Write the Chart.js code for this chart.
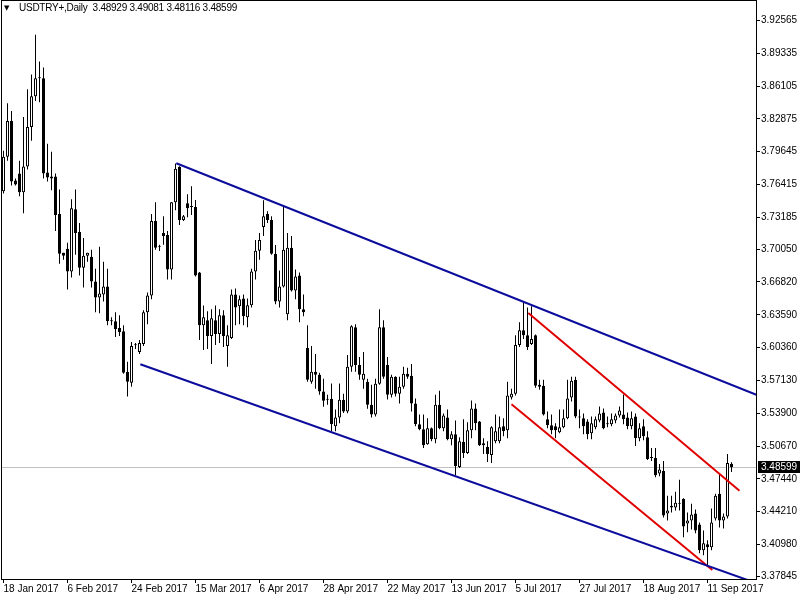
<!DOCTYPE html>
<html>
<head>
<meta charset="utf-8">
<script src="https://cdn.jsdelivr.net/npm/chart.js@4.4.0/dist/chart.umd.min.js"></script>
<style>
  html, body { margin: 0; padding: 0; background: #fff; }
  #wrap { position: relative; width: 800px; height: 600px; }
  #title { position: absolute; left: 19px; top: 2px; font: 10px "Liberation Sans", Arial, sans-serif; letter-spacing: -0.25px; line-height: 12px; color: #000; white-space: pre; }
  #tri { position: absolute; left: 4px; top: 2px; font: 7px "DejaVu Sans", sans-serif; line-height: 12px; color: #000; }
</style>
</head>
<body>
<div id="wrap">
  <canvas id="chart" width="800" height="600"></canvas>
  <div id="tri">▼</div>
  <div id="title">USDTRY+,Daily  3.48929 3.49081 3.48116 3.48599</div>
</div>
<script>
// daily candles, one per bar index (0 = 18 Jan 2017)
const opens = [3.7574, 3.7915, 3.8267, 3.7681, 3.7750, 3.7564, 3.7818, 3.8208, 3.8510, 3.8696,
  3.8686, 3.7759, 3.7720, 3.7720, 3.7350, 3.6969, 3.7008, 3.6784, 3.7398, 3.7174,
  3.6823, 3.6940, 3.6930, 3.6686, 3.6530, 3.6559, 3.6637, 3.6306, 3.6296, 3.6228,
  3.6198, 3.5798, 3.5691, 3.6064, 3.5993, 3.6072, 3.6384, 3.6550, 3.7281, 3.7038,
  3.7164, 3.7145, 3.6804, 3.7467, 3.7817, 3.7291, 3.7457, 3.7429, 3.7419, 3.6775,
  3.6257, 3.6306, 3.6150, 3.6306, 3.6169, 3.6354, 3.6052, 3.6130, 3.6559, 3.6442,
  3.6520, 3.6335, 3.6452, 3.6784, 3.6989, 3.7223, 3.7350, 3.7291, 3.6959, 3.6491,
  3.6637, 3.6364, 3.7018, 3.6599, 3.6745, 3.6413, 3.6032, 3.5701, 3.5798, 3.5769,
  3.5603, 3.5532, 3.5532, 3.5262, 3.5349, 3.5523, 3.5408, 3.5847, 3.6237, 3.5866,
  3.5720, 3.5701, 3.5474, 3.5377, 3.5681, 3.6237, 3.5866, 3.5573, 3.5750, 3.5583,
  3.5652, 3.5779, 3.5760, 3.5486, 3.5281, 3.5232, 3.5086, 3.5242, 3.5134, 3.5474,
  3.5242, 3.5349, 3.5135, 3.5183, 3.4861, 3.5106, 3.4998, 3.5222, 3.5437, 3.5310,
  3.5096, 3.5057, 3.4979, 3.5115, 3.5115, 3.5262, 3.5222, 3.5544, 3.5583, 3.6062,
  3.6208, 3.6159, 3.6072, 3.6159, 3.5671, 3.5662, 3.5330, 3.5271, 3.5262, 3.5203,
  3.5252, 3.5340, 3.5544, 3.5720, 3.5359, 3.5340, 3.5310, 3.5193, 3.5252, 3.5320,
  3.5398, 3.5291, 3.5281, 3.5320, 3.5369, 3.5379, 3.5349, 3.5262, 3.5359, 3.5144,
  3.5262, 3.5154, 3.4959, 3.4950, 3.4798, 3.4823, 3.4403, 3.4462, 3.4462, 3.4510,
  3.4549, 3.4305, 3.4335, 3.4403, 3.4296, 3.4042, 3.4101, 3.4072, 3.4354, 3.4598,
  3.4335, 3.4374, 3.48929];
const highs = [3.7974, 3.8442, 3.8364, 3.7701, 3.7876, 3.8306, 3.8579, 3.8725, 3.9115, 3.8852,
  3.8793, 3.8042, 3.7964, 3.7750, 3.7593, 3.6969, 3.7067, 3.7496, 3.7593, 3.7262,
  3.7115, 3.6969, 3.6998, 3.6813, 3.7028, 3.6881, 3.6813, 3.6335, 3.6384, 3.6354,
  3.6257, 3.5896, 3.6091, 3.6082, 3.6111, 3.6403, 3.6579, 3.7350, 3.7467, 3.7048,
  3.7330, 3.7184, 3.7470, 3.7847, 3.7820, 3.7340, 3.7545, 3.7625, 3.7488, 3.6780,
  3.6451, 3.6394, 3.6413, 3.6451, 3.6413, 3.6403, 3.6257, 3.6608, 3.6618, 3.6550,
  3.6559, 3.6520, 3.6813, 3.7096, 3.7164, 3.7486, 3.7379, 3.7330, 3.7047, 3.6795,
  3.7437, 3.7164, 3.7135, 3.6804, 3.6775, 3.6559, 3.6257, 3.6052, 3.5974, 3.5789,
  3.5730, 3.5573, 3.5683, 3.5427, 3.5683, 3.5583, 3.5963, 3.6257, 3.6267, 3.5944,
  3.5993, 3.5730, 3.5671, 3.5730, 3.6413, 3.6306, 3.5944, 3.5769, 3.5755, 3.5750,
  3.5847, 3.5838, 3.5876, 3.5535, 3.5379, 3.5379, 3.5340, 3.5250, 3.5573, 3.5612,
  3.5388, 3.5427, 3.5213, 3.5320, 3.5154, 3.5330, 3.5301, 3.5515, 3.5486, 3.5315,
  3.5144, 3.5115, 3.5262, 3.5379, 3.5359, 3.5340, 3.5701, 3.5632, 3.6159, 3.6286,
  3.6481, 3.6432, 3.6442, 3.6165, 3.5720, 3.5720, 3.5408, 3.5379, 3.5291, 3.5427,
  3.5427, 3.5720, 3.5750, 3.5750, 3.5427, 3.5388, 3.5330, 3.5359, 3.5359, 3.5456,
  3.5437, 3.5359, 3.5388, 3.5388, 3.5456, 3.5574, 3.5398, 3.5408, 3.5388, 3.5291,
  3.5330, 3.5213, 3.5047, 3.5047, 3.4890, 3.4920, 3.4579, 3.4579, 3.4618, 3.4735,
  3.4553, 3.4413, 3.4500, 3.4442, 3.4315, 3.4237, 3.4140, 3.4452, 3.4598, 3.4793,
  3.4403, 3.4989, 3.49081];
const lows = [3.7554, 3.7876, 3.7632, 3.7632, 3.7525, 3.7359, 3.7789, 3.8071, 3.8462, 3.8452,
  3.7701, 3.7671, 3.7584, 3.7184, 3.6862, 3.6901, 3.6608, 3.6725, 3.6950, 3.6745,
  3.6628, 3.6881, 3.6628, 3.6384, 3.6374, 3.6491, 3.6257, 3.6257, 3.6140, 3.6150,
  3.5780, 3.5554, 3.5652, 3.6023, 3.5973, 3.6052, 3.6267, 3.6511, 3.6998, 3.6988,
  3.7048, 3.6706, 3.6706, 3.7388, 3.7242, 3.7281, 3.7320, 3.7340, 3.6735, 3.6110,
  3.6013, 3.6023, 3.5876, 3.6062, 3.6081, 3.6042, 3.5847, 3.6120, 3.6257, 3.6267,
  3.6257, 3.6237, 3.6432, 3.6706, 3.6901, 3.7135, 3.7262, 3.6950, 3.6462, 3.6432,
  3.6628, 3.6306, 3.6589, 3.6511, 3.6286, 3.6345, 3.5701, 3.5681, 3.5632, 3.5573,
  3.5454, 3.5474, 3.5213, 3.5213, 3.5291, 3.5393, 3.5389, 3.5798, 3.5798, 3.5720,
  3.5632, 3.5435, 3.5349, 3.5359, 3.5671, 3.5730, 3.5525, 3.5544, 3.5554, 3.5486,
  3.5632, 3.5730, 3.5408, 3.5262, 3.5222, 3.5047, 3.5080, 3.5115, 3.5096, 3.5232,
  3.5213, 3.5125, 3.5076, 3.4779, 3.4851, 3.4950, 3.4988, 3.5144, 3.5222, 3.5067,
  3.4988, 3.4910, 3.4900, 3.5096, 3.5096, 3.5164, 3.5144, 3.5525, 3.5564, 3.6042,
  3.6120, 3.6013, 3.6062, 3.5642, 3.5622, 3.5369, 3.5242, 3.5183, 3.5144, 3.5193,
  3.5242, 3.5330, 3.5505, 3.5340, 3.5242, 3.5183, 3.5135, 3.5135, 3.5232, 3.5301,
  3.5232, 3.5252, 3.5262, 3.5291, 3.5349, 3.5281, 3.5232, 3.5232, 3.5067, 3.5115,
  3.5125, 3.4930, 3.4920, 3.4760, 3.4769, 3.4364, 3.4335, 3.4413, 3.4432, 3.4432,
  3.4169, 3.4218, 3.4247, 3.4208, 3.4013, 3.3993, 3.3896, 3.4042, 3.4335, 3.4266,
  3.4257, 3.4355, 3.48116];
const closes = [3.7915, 3.8267, 3.7671, 3.7642, 3.7564, 3.7818, 3.8208, 3.8510, 3.8686, 3.8686,
  3.7750, 3.7710, 3.7701, 3.7340, 3.6959, 3.6940, 3.6784, 3.7408, 3.7164, 3.6823,
  3.6940, 3.6969, 3.6686, 3.6530, 3.6569, 3.6637, 3.6296, 3.6296, 3.6218, 3.6188,
  3.5788, 3.5701, 3.6052, 3.6060, 3.6081, 3.6384, 3.6550, 3.7281, 3.7018, 3.7028,
  3.7135, 3.6804, 3.7467, 3.7797, 3.7291, 3.7330, 3.7408, 3.7419, 3.6745, 3.6257,
  3.6335, 3.6150, 3.6325, 3.6169, 3.6354, 3.6150, 3.6159, 3.6559, 3.6432, 3.6511,
  3.6345, 3.6452, 3.6784, 3.6989, 3.7096, 3.7330, 3.7291, 3.6959, 3.6491, 3.6637,
  3.6998, 3.7018, 3.6599, 3.6735, 3.6413, 3.6384, 3.5720, 3.5798, 3.5769, 3.5603,
  3.5513, 3.5523, 3.5281, 3.5349, 3.5523, 3.5408, 3.5847, 3.6247, 3.5866, 3.5769,
  3.5779, 3.5474, 3.5377, 3.5681, 3.6237, 3.5750, 3.5573, 3.5750, 3.5583, 3.5652,
  3.5779, 3.5750, 3.5486, 3.5281, 3.5232, 3.5076, 3.5242, 3.5134, 3.5474, 3.5242,
  3.5369, 3.5135, 3.5183, 3.4871, 3.5115, 3.4998, 3.5222, 3.5437, 3.5291, 3.5076,
  3.5076, 3.4988, 3.5252, 3.5213, 3.5252, 3.5213, 3.5564, 3.5583, 3.6062, 3.6208,
  3.6159, 3.6042, 3.6120, 3.5662, 3.5652, 3.5379, 3.5271, 3.5222, 3.5222, 3.5252,
  3.5340, 3.5535, 3.5710, 3.5359, 3.5349, 3.5262, 3.5183, 3.5291, 3.5330, 3.5388,
  3.5242, 3.5281, 3.5330, 3.5369, 3.5418, 3.5330, 3.5262, 3.5340, 3.5144, 3.5242,
  3.5164, 3.4940, 3.4950, 3.4779, 3.4837, 3.4384, 3.4432, 3.4481, 3.4510, 3.4500,
  3.4276, 3.4335, 3.4394, 3.4237, 3.4042, 3.4111, 3.4072, 3.4315, 3.4579, 3.4335,
  3.4374, 3.4901, 3.48599];

const xTickIdx = [0, 16, 32, 48, 64, 80, 96, 112, 128, 144, 160, 176];
const xLabels = ["18 Jan 2017", "6 Feb 2017", "24 Feb 2017", "15 Mar 2017", "6 Apr 2017", "28 Apr 2017",
  "22 May 2017", "13 Jun 2017", "5 Jul 2017", "27 Jul 2017", "18 Aug 2017", "11 Sep 2017"];
const yTicks = [3.92565, 3.89335, 3.86105, 3.82875, 3.79645, 3.76415, 3.73185, 3.70050, 3.66820,
  3.63590, 3.60360, 3.57130, 3.53900, 3.50670, 3.47440, 3.44210, 3.40980, 3.37845];
const lastPrice = 3.48599;

// trend lines: [bar index, price]
const blueUpper = [[43.2, 3.7850], [188.3, 3.5570]];
const blueLower = [[34.2, 3.5873], [188.3, 3.3717]];
const redUpper = [[131.2, 3.6377], [184, 3.4627]];
const redLower = [[127, 3.5479], [177.2, 3.3847]];

const FONT = '"Liberation Sans", Arial, sans-serif';
const idx = opens.map((_, i) => i);

function toPoints(line) {
  return line.map((p) => ({ x: p[0], y: p[1] }));
}

function trendDataset(line, color) {
  return {
    type: "line",
    data: toPoints(line),
    borderColor: color,
    borderWidth: 2,
    pointRadius: 0,
    tension: 0,
    order: 0,
  };
}

const framePlugin = {
  id: "frame",
  beforeDatasetsDraw(chart) {
    const ctx = chart.ctx;
    const y = Math.round(chart.scales.y.getPixelForValue(lastPrice)) + 0.5;
    ctx.save();
    ctx.strokeStyle = "#c0c0c0";
    ctx.lineWidth = 1;
    ctx.beginPath();
    ctx.moveTo(chart.chartArea.left, y);
    ctx.lineTo(chart.chartArea.right, y);
    ctx.stroke();
    ctx.restore();
  },
  afterDraw(chart) {
    const ctx = chart.ctx;
    ctx.save();
    ctx.strokeStyle = "#000";
    ctx.lineWidth = 1;
    ctx.strokeRect(1.5, 0.5, 755, 579);
    const y = Math.round(chart.scales.y.getPixelForValue(lastPrice));
    ctx.fillStyle = "#000";
    ctx.fillRect(758, y - 6, 42, 12);
    ctx.fillStyle = "#fff";
    ctx.font = "10px " + FONT;
    ctx.textBaseline = "middle";
    ctx.fillText(lastPrice.toFixed(5), 761, y + 0.5);
    ctx.restore();
  },
};

new Chart(document.getElementById("chart"), {
  type: "bar",
  data: {
    datasets: [
      trendDataset(blueUpper, "#0c0c9c"),
      trendDataset(blueLower, "#0c0c9c"),
      trendDataset(redUpper, "#e00000"),
      trendDataset(redLower, "#e00000"),
      {
        type: "bar",
        data: idx.map((i) => ({ x: i, y: [opens[i], closes[i]] })),
        backgroundColor: idx.map((i) => (closes[i] > opens[i] ? "#fff" : "#000")),
        borderColor: "#000",
        borderWidth: 1,
        borderSkipped: false,
        barThickness: 3,
        minBarLength: 1,
        inflateAmount: 0,
        grouped: false,
        order: 1,
      },
      {
        type: "bar",
        data: idx.map((i) => ({ x: i, y: [lows[i], highs[i]] })),
        backgroundColor: "#000",
        borderWidth: 0,
        barThickness: 1,
        minBarLength: 1,
        inflateAmount: 0,
        grouped: false,
        order: 2,
      },
    ],
  },
  options: {
    responsive: false,
    animation: false,
    devicePixelRatio: 1,
    layout: { padding: { left: 2, top: 2, right: 0, bottom: 0 } },
    plugins: { legend: { display: false }, tooltip: { enabled: false } },
    scales: {
      x: {
        type: "linear",
        position: "bottom",
        min: (2 - 3.5) / 4,
        max: (756 - 3.5) / 4,
        offset: false,
        afterBuildTicks: (s) => { s.ticks = xTickIdx.map((v) => ({ value: v })); },
        afterFit: (s) => { s.height = 21; },
        grid: { display: true, offset: false, drawOnChartArea: false, drawTicks: true, tickLength: 4, color: "#000" },
        border: { display: false },
        ticks: {
          autoSkip: false,
          maxRotation: 0,
          align: "start",
          padding: 0,
          color: "#000",
          font: { family: FONT, size: 10 },
          callback: (v, i) => xLabels[i],
        },
      },
      y: {
        type: "linear",
        position: "right",
        min: 3.92565 - (579 - 15.5) / 1025,
        max: 3.92565 + (15.5 - 2) / 1025,
        beginAtZero: false,
        bounds: "data",
        afterBuildTicks: (s) => { s.ticks = yTicks.map((v) => ({ value: v })); },
        afterFit: (s) => { s.width = 44; },
        grid: { display: true, drawOnChartArea: false, drawTicks: true, tickLength: 4, color: "#000" },
        border: { display: false },
        ticks: {
          autoSkip: false,
          padding: 1,
          color: "#000",
          font: { family: FONT, size: 10 },
          callback: (v) => v.toFixed(5),
        },
      },
    },
  },
  plugins: [framePlugin],
});
</script>
</body>
</html>
